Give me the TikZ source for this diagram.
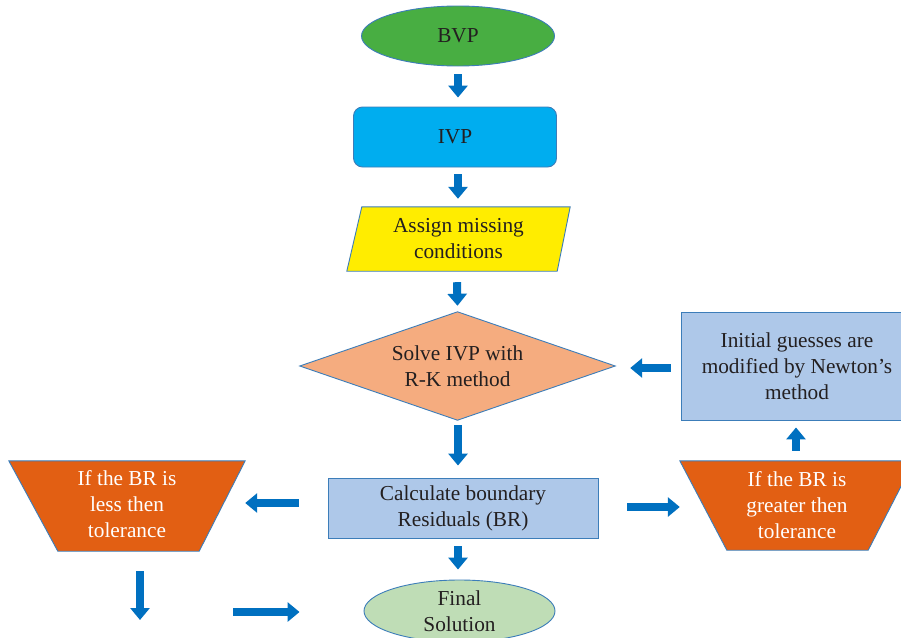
\documentclass[tikz,border=0pt]{standalone}
\usepackage{fontspec}
\setmainfont{Liberation Serif}
\usetikzlibrary{arrows.meta,shapes.geometric}
\definecolor{bvpgreen}{RGB}{72,174,66}
\definecolor{ivpcyan}{RGB}{0,173,239}
\definecolor{ayellow}{RGB}{255,237,0}
\definecolor{salmon}{RGB}{245,172,127}
\definecolor{lblue}{RGB}{174,200,233}
\definecolor{lgreen}{RGB}{191,221,182}
\definecolor{dorange}{RGB}{226,95,19}
\definecolor{arrowblue}{RGB}{0,112,192}
\definecolor{edgeblue}{RGB}{60,125,185}
\definecolor{txt}{RGB}{35,31,32}
\tikzset{
  lbl/.style={font=\fontsize{21.3}{26}\selectfont, text=txt, align=center, inner sep=0pt},
  wlbl/.style={lbl, text=white},
  edge/.style={draw=edgeblue, line width=0.9pt},
  barrow/.style={draw=arrowblue, line width=8pt, -{Triangle[length=12pt,width=19pt]}},
}
\begin{document}
\begin{tikzpicture}[x=1pt,y=-1pt]
\clip (0,0) rectangle (901,637);
\fill[white] (0,0) rectangle (901,637);
% nodes
\node[lbl, ellipse, edge, fill=bvpgreen, minimum width=193pt, minimum height=60pt] (bvp) at (458,36) {BVP};
\node[lbl, rectangle, rounded corners=9pt, edge, fill=ivpcyan, minimum width=203pt, minimum height=60pt] (ivp) at (455,137) {IVP};
\node[lbl, minimum width=223pt, minimum height=64pt] (assign) at (458.5,239) {};
\fill[ayellow] ([xshift=15pt]assign.north west) -- (assign.north east) -- ([xshift=-13pt]assign.south east) -- (assign.south west) -- cycle;
\draw[edge] ([xshift=15pt]assign.north west) -- (assign.north east) -- ([xshift=-13pt]assign.south east) -- (assign.south west) -- cycle;
\node[lbl] at (assign.center) {Assign missing\\conditions};
\node[lbl, minimum width=315pt, minimum height=108pt] (diamond) at (457.5,366) {};
\draw[edge, fill=salmon] (diamond.north) -- (diamond.east) -- (diamond.south) -- (diamond.west) -- cycle;
\node[lbl] at (diamond.center) {Solve IVP with\\R-K method};
\node[lbl, rectangle, edge, fill=lblue, minimum width=270pt, minimum height=60pt] (calc) at (463,508) {Calculate boundary\\Residuals (BR)};
\node[lbl, ellipse, edge, fill=lgreen, minimum width=191pt, minimum height=62pt] (final) at (459.5,611) {Final\\Solution};
\node[lbl, rectangle, edge, fill=lblue, minimum width=232pt, minimum height=108pt] (rbox) at (797,366) {Initial guesses are\\modified by Newton’s\\method};
\node[lbl, minimum width=236pt, minimum height=90pt] (ltrap) at (127,506) {};
\draw[edge, fill=dorange] (ltrap.north west) -- (ltrap.north east) -- ([xshift=-46pt]ltrap.south east) -- ([xshift=49pt]ltrap.south west) -- cycle;
\node[wlbl] at ([yshift=2pt]ltrap.center) {If the BR is\\less then\\tolerance};
\node[lbl, minimum width=234pt, minimum height=89pt] (rtrap) at (797,505.5) {};
\draw[edge, fill=dorange] (rtrap.north west) -- (rtrap.north east) -- ([xshift=-46pt]rtrap.south east) -- ([xshift=47pt]rtrap.south west) -- cycle;
\node[wlbl] at (rtrap.center) {If the BR is\\greater then\\tolerance};
\coordinate (ldown) at (140,620);
\coordinate (rstart) at (233,612);
\coordinate (rend) at ([xshift=-64pt]final.west);
\coordinate (lstart) at ([xshift=-29pt,yshift=5pt]calc.west);
\coordinate (rrstart) at ([xshift=29pt,yshift=1pt]calc.east);
% arrows
\draw[barrow] ([yshift=-8pt]bvp.south) -- ([yshift=9pt]bvp.south |- ivp.north);
\draw[barrow] ([xshift=3pt,yshift=-7pt]ivp.south) -- ([xshift=3pt,yshift=8pt]ivp.south |- assign.north);
\draw[barrow] ([xshift=-1.5pt,yshift=-11pt]assign.south) -- ([yshift=6pt]diamond.north);
\draw[barrow] ([xshift=0.5pt,yshift=-5pt]diamond.south) -- ([xshift=0.5pt,yshift=12pt]diamond.south |- calc.north);
\draw[barrow] ([xshift=-5pt,yshift=-8pt]calc.south) -- ([xshift=-5pt,yshift=10pt]calc.south |- final.north);
\draw[barrow] (lstart) -- (lstart -| ltrap.east);
\draw[barrow] (rrstart) -- (rrstart -| rtrap.west);
\draw[barrow] ([xshift=-1pt,yshift=10pt]rtrap.north) -- ([xshift=-1pt,yshift=-7pt]rbox.south);
\draw[barrow] ([xshift=-10pt,yshift=-2pt]rbox.west) -- ([xshift=15pt,yshift=-2pt]diamond.east);
\draw[barrow] ([xshift=13pt,yshift=-20pt]ltrap.south) -- (ldown);
\draw[barrow] (rstart) -- (rstart -| rend);
\end{tikzpicture}
\end{document}
